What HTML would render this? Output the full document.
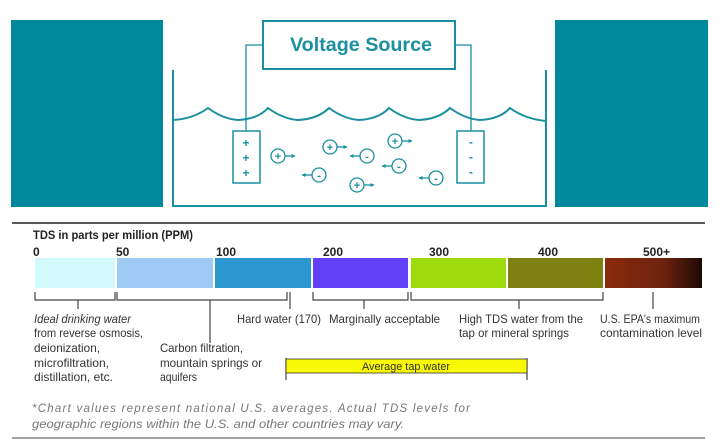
<!DOCTYPE html>
<html><head><meta charset="utf-8"><style>
html,body{margin:0;padding:0;background:#fff;width:720px;height:446px;overflow:hidden}
svg{display:block}
text{font-family:"Liberation Sans",sans-serif}
</style></head><body>
<svg width="720" height="446" viewBox="0 0 720 446" xmlns="http://www.w3.org/2000/svg">
<defs>
<linearGradient id="g5" x1="0" x2="1" y1="0" y2="0">
<stop offset="0" stop-color="#8a2a0c"/><stop offset="0.6" stop-color="#6e220e"/><stop offset="1" stop-color="#1e0a06"/>
</linearGradient>
<marker id="ar" markerWidth="4" markerHeight="4" refX="3.5" refY="2" orient="auto" markerUnits="userSpaceOnUse"><path d="M0,0 L4,2 L0,4 z" fill="#1a8fa0"/></marker>
</defs>
<!-- top -->
<rect x="11" y="20" width="152" height="187" fill="#00889c"/>
<rect x="555" y="20" width="153" height="187" fill="#00889c"/>
<g stroke="#1a8fa0" fill="none">
<rect x="263" y="21" width="192" height="48" stroke-width="2"/>
<path d="M263,45 H246 V131 M455,45 H471 V131" stroke-width="1.3"/>
<path d="M173,70 V206 H546 V70" stroke-width="2"/>
<path d="M173,120 Q193,119 208,108 Q223,119 238,120 Q258,119 268,108 Q283,119 298,120 Q318,119 329,108 Q344,119 359,120 Q379,119 389,108 Q404,119 419,120 Q439,119 450,108 Q465,119 480,120 Q500,119 510,108 Q525,119 546,121" stroke-width="2"/>
<rect x="233" y="131" width="27" height="52" stroke-width="1.5"/>
<rect x="457" y="131" width="27" height="52" stroke-width="1.5"/>
</g>
<g fill="#1a8fa0" font-weight="bold" font-size="12" text-anchor="middle">
<text x="246" y="147">+</text><text x="246" y="162">+</text><text x="246" y="177">+</text>
<text x="471" y="146">-</text><text x="471" y="161">-</text><text x="471" y="176">-</text>
</g>
<text x="361" y="51" font-size="19" font-weight="bold" fill="#1a8fa0" text-anchor="middle" textLength="142" lengthAdjust="spacingAndGlyphs">Voltage Source</text>
<g stroke="#1a8fa0" stroke-width="1.3" fill="none">
<circle cx="278" cy="156" r="7"/><path d="M285,156 H295" marker-end="url(#ar)"/>
<circle cx="330" cy="147" r="7"/><path d="M337,147 H347" marker-end="url(#ar)"/>
<circle cx="395" cy="141" r="7"/><path d="M402,141 H412" marker-end="url(#ar)"/>
<circle cx="357" cy="185" r="7"/><path d="M364,185 H374" marker-end="url(#ar)"/>
<circle cx="367" cy="156" r="7"/><path d="M360,156 H350" marker-end="url(#ar)"/>
<circle cx="399" cy="166" r="7"/><path d="M392,166 H382" marker-end="url(#ar)"/>
<circle cx="319" cy="175" r="7"/><path d="M312,175 H302" marker-end="url(#ar)"/>
<circle cx="436" cy="178" r="7"/><path d="M429,178 H419" marker-end="url(#ar)"/>
</g>
<g fill="#1a8fa0" font-size="11" font-weight="bold" text-anchor="middle">
<text x="278" y="160">+</text><text x="330" y="151">+</text><text x="395" y="145">+</text><text x="357" y="189">+</text>
<text x="367" y="160">-</text><text x="399" y="170">-</text><text x="319" y="179">-</text><text x="436" y="182">-</text>
</g>
<!-- bottom chart -->
<line x1="12" y1="223" x2="705" y2="223" stroke="#222" stroke-width="1.5"/>
<line x1="12" y1="438" x2="705" y2="438" stroke="#444" stroke-width="1"/>
<text x="33" y="239" font-size="12" font-weight="bold" fill="#222" textLength="160" lengthAdjust="spacingAndGlyphs">TDS in parts per million (PPM)</text>
<g font-size="12" font-weight="bold" fill="#222">
<text x="33" y="256">0</text><text x="116" y="256">50</text><text x="216" y="256">100</text>
<text x="323" y="256">200</text><text x="429" y="256">300</text><text x="538" y="256">400</text><text x="643" y="256">500+</text>
</g>
<rect x="35" y="258" width="80" height="30" fill="#d2fafb"/>
<rect x="117" y="258" width="96" height="30" fill="#9ecbf3"/>
<rect x="215" y="258" width="96" height="30" fill="#2b98d2"/>
<rect x="313" y="258" width="95" height="30" fill="#6140f7"/>
<rect x="411" y="258" width="95" height="30" fill="#9fdb0c"/>
<rect x="508" y="258" width="95" height="30" fill="#7d8110"/>
<rect x="605" y="258" width="97" height="30" fill="url(#g5)"/>
<g stroke="#444" stroke-width="1.2" fill="none">
<path d="M35,292 V300 H115 V292 M78,300 V309"/>
<path d="M117,292 V300 H287 V292 M210,300 V343"/>
<path d="M290,292 V309"/>
<path d="M313,292 V300 H408 V292 M364,300 V309"/>
<path d="M411,292 V300 H603 V292 M519,300 V309"/>
<path d="M653,292 V309"/>
<path d="M286,358 V380 M527,358 V380"/>
</g>
<rect x="286" y="359" width="241" height="14" fill="#f9f905" stroke="#333" stroke-width="0.8"/>
<text x="406" y="370" font-size="11" fill="#333" text-anchor="middle" textLength="88" lengthAdjust="spacingAndGlyphs">Average tap water</text>
<g font-size="12" fill="#333" lengthAdjust="spacingAndGlyphs">
<text x="34" y="323" font-style="italic" textLength="97" lengthAdjust="spacingAndGlyphs">Ideal drinking water</text>
<text x="34" y="337" textLength="109" lengthAdjust="spacingAndGlyphs">from reverse osmosis,</text>
<text x="34" y="352" textLength="66" lengthAdjust="spacingAndGlyphs">deionization,</text>
<text x="34" y="367" textLength="75" lengthAdjust="spacingAndGlyphs">microfiltration,</text>
<text x="34" y="381" textLength="79" lengthAdjust="spacingAndGlyphs">distillation, etc.</text>
<text x="160" y="352" textLength="83" lengthAdjust="spacingAndGlyphs">Carbon filtration,</text>
<text x="160" y="367" textLength="102" lengthAdjust="spacingAndGlyphs">mountain springs or</text>
<text x="160" y="381" textLength="37" lengthAdjust="spacingAndGlyphs">aquifers</text>
<text x="237" y="323" textLength="84" lengthAdjust="spacingAndGlyphs">Hard water (170)</text>
<text x="329" y="323" textLength="111" lengthAdjust="spacingAndGlyphs">Marginally acceptable</text>
<text x="459" y="323" textLength="124" lengthAdjust="spacingAndGlyphs">High TDS water from the</text>
<text x="459" y="337" textLength="110" lengthAdjust="spacingAndGlyphs">tap or mineral springs</text>
<text x="600" y="323" textLength="100" lengthAdjust="spacingAndGlyphs">U.S. EPA's maximum</text>
<text x="600" y="337" textLength="102" lengthAdjust="spacingAndGlyphs">contamination level</text>
</g>
<g font-size="11.5" fill="#777" font-style="italic">
<text x="32" y="412" textLength="438" lengthAdjust="spacing">*Chart values represent national U.S. averages.  Actual TDS levels for</text>
<text x="32" y="428" textLength="372" lengthAdjust="spacingAndGlyphs">geographic regions within the U.S. and other countries may vary.</text>
</g>
</svg>
</body></html>
